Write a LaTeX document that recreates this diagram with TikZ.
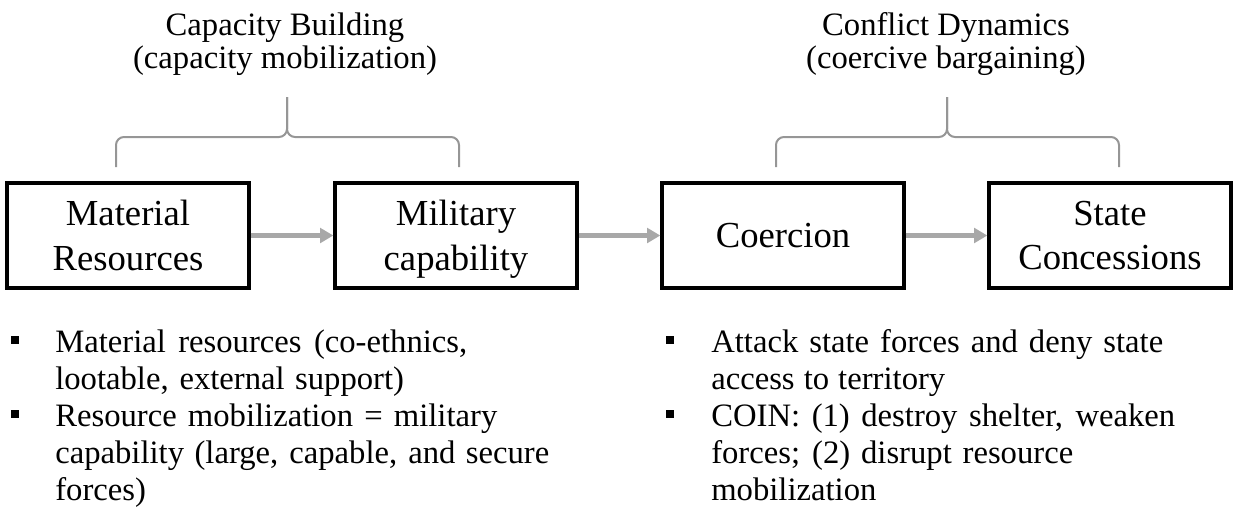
\documentclass[tikz,border=0pt]{standalone}
\usepackage{fontspec}
\setmainfont{Liberation Serif}
\usetikzlibrary{arrows.meta}
\definecolor{arrowgray}{RGB}{168,168,168}
\definecolor{bracegray}{RGB}{150,150,150}
\newcommand{\sqbullet}{\rule[6pt]{6pt}{6pt}}
\newcommand{\fitline}[2]{\makebox[#1][s]{#2}}
\begin{document}
\begin{tikzpicture}[x=0.75pt,y=-0.75pt,
  stage/.style={draw=black, line width=3pt, minimum width=181pt, minimum height=78.75pt,
    inner sep=0pt, align=center, text depth=0pt, font=\fontsize{27.5}{33.5}\selectfont},
  flow/.style={draw=arrowgray, line width=3.75pt, -{Triangle[length=10pt,width=11pt]}},
  bracepath/.style={draw=bracegray, line width=1.5pt, rounded corners=6pt},
  heading/.style={align=center, inner sep=0pt, font=\fontsize{24.5}{24.75}\selectfont},
  bulletlist/.style={anchor=north west, inner sep=0pt, font=\fontsize{24.5}{27.75}\selectfont},
]
\useasboundingbox (0,0) rectangle (1233,514);

% stage boxes
\node[stage] (mat) at (128,235.5) {Material\\Resources};
\node[stage] (mil) at (456,235.5) {Military\\capability};
\node[stage] (coe) at (783,235.5) {Coercion};
\node[stage] (con) at (1110,235.5) {State\\Concessions};

% arrows
\draw[flow] (mat) -- (mil);
\draw[flow] (mil) -- (coe);
\draw[flow] (coe) -- (con);

% braces
\coordinate (lb1) at (116,167);
\coordinate (lbt) at (287,97);
\coordinate (lb2) at (459,167);
\draw[bracepath] (lb1) -- (116,137) -- (287,137) -- (lbt);
\draw[bracepath] (lbt) -- (287,137) -- (459,137) -- (lb2);
\coordinate (rb1) at (776,167);
\coordinate (rbt) at (947,97);
\coordinate (rb2) at (1119,167);
\draw[bracepath] (rb1) -- (776,137) -- (947,137) -- (rbt);
\draw[bracepath] (rbt) -- (947,137) -- (1119,137) -- (rb2);

% headings
\node[heading] (cap) at (285,44) {Capacity Building\\(capacity mobilization)};
\node[heading] (dyn) at (946,44) {Conflict Dynamics\\(coercive bargaining)};

% bullet lists
\node[bulletlist] (leftlist) at (10.5,326.1) {%
\begin{tabular}{@{}p{33.4pt}@{}l@{}}
\sqbullet & \fitline{309pt}{Material resources (co-ethnics,}\\
 & \fitline{261.5pt}{lootable, external support)}\\
\sqbullet & \fitline{331.5pt}{Resource mobilization = military}\\
 & \fitline{370.5pt}{capability (large, capable, and secure}\\
 & forces)
\end{tabular}};
\node[bulletlist] (rightlist) at (666,326.1) {%
\begin{tabular}{@{}p{33.75pt}@{}l@{}}
\sqbullet & \fitline{339pt}{Attack state forces and deny state}\\
 & \fitline{175.5pt}{access to territory}\\
\sqbullet & \fitline{348pt}{COIN: (1) destroy shelter, weaken}\\
 & \fitline{271.5pt}{forces; (2) disrupt resource}\\
 & mobilization
\end{tabular}};
\end{tikzpicture}
\end{document}
